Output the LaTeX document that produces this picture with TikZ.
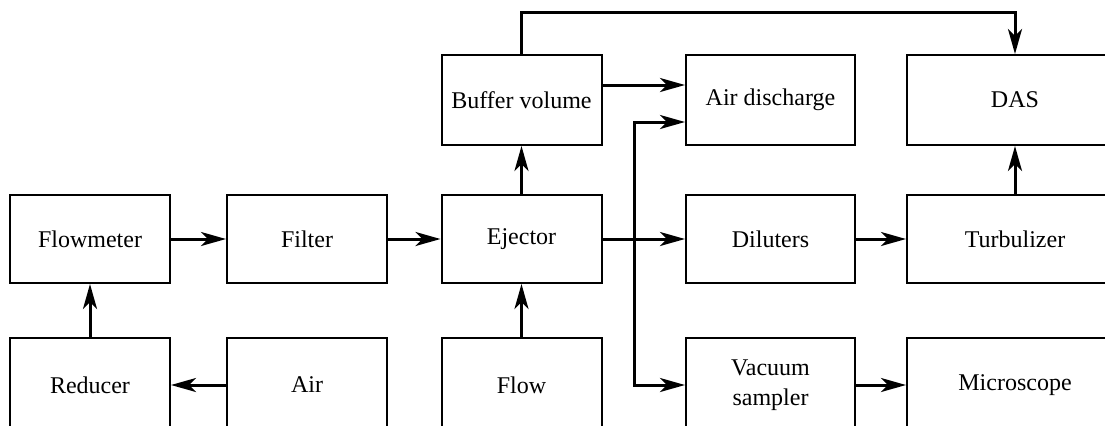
\documentclass[tikz,border=0pt]{standalone}
\usepackage{fontspec}
\setmainfont{Liberation Serif}
\usepackage{tikz}
\usetikzlibrary{arrows.meta}

\begin{document}
\begin{tikzpicture}[x=0.5pt,y=-0.5pt,>={Stealth[length=12.5pt,width=7pt,inset=3.5pt]},
  box/.style={draw,line width=1pt,minimum width=80pt,minimum height=44pt,inner sep=1pt,align=center,font=\fontsize{12}{15}\selectfont},
  wide/.style={box,minimum width=84.5pt},
  big/.style={box,minimum width=108pt},
  low/.style={minimum height=47pt},
  flowline/.style={->,line width=1.5pt}]
  \clip (0,0) rectangle (1105,425);
  % top row
  \node[box,minimum height=45pt] (buffer) at (521.5,100) {Buffer volume};
  \node[wide,minimum height=45pt] (airdis) at (770.5,100) {Air discharge};
  \node[big,minimum height=45pt] (das) at (1015,100) {DAS};
  % middle row
  \node[box] (flowmeter) at (90,239) {Flowmeter};
  \node[box] (filter) at (307,239) {Filter};
  \node[box] (ejector) at (521.5,239) {Ejector};
  \node[wide] (diluters) at (770.5,239) {Diluters};
  \node[big] (turbulizer) at (1015,239) {Turbulizer};
  % bottom row
  \node[box,low] (reducer) at (90,385) {Reducer};
  \node[box,low] (air) at (307,385) {Air};
  \node[box,low] (flow) at (521.5,385) {Flow};
  \node[wide,low] (vacuum) at (770.5,385) {Vacuum\\sampler};
  \node[big,low] (microscope) at (1015,385) {Microscope};
  \coordinate (top) at (0,12);
  \coordinate (branch) at (634,239);
  \draw[flowline] (air) -- (reducer);
  \draw[flowline] (reducer) -- (flowmeter);
  \draw[flowline] (flowmeter) -- (filter);
  \draw[flowline] (filter) -- (ejector);
  \draw[flowline] (flow) -- (ejector);
  \draw[flowline] (ejector) -- (buffer);
  \draw[flowline] (ejector) -- (diluters);
  \draw[flowline] (diluters) -- (turbulizer);
  \draw[flowline] (turbulizer) -- (das);
  \draw[flowline] (vacuum) -- (microscope);
  \draw[flowline] ([yshift=7.5pt]buffer.east) -- ([yshift=7.5pt]airdis.west);
  \draw[flowline] (branch) |- ([yshift=-11pt]airdis.west);
  \draw[flowline] (branch) |- (vacuum.west);
  \draw[flowline] (buffer.north) -- (buffer.north |- top) -| (das.north);
\end{tikzpicture}
\end{document}
